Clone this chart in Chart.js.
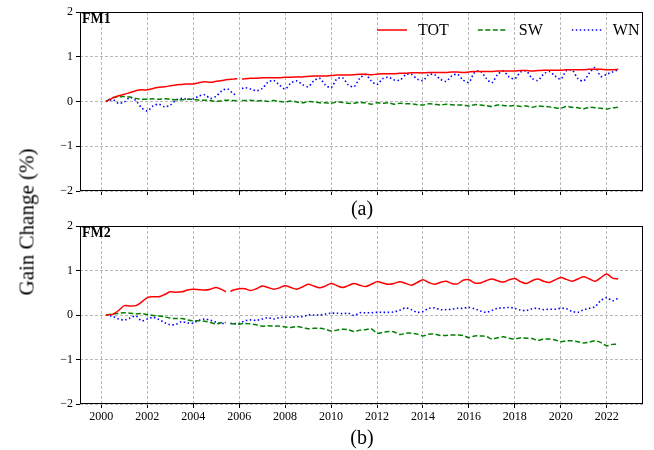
<!DOCTYPE html>
<html>
<head>
<meta charset="utf-8">
<style>
body { margin:0; background:#fff; width:654px; height:450px; position:relative; overflow:hidden;
       font-family:'Liberation Serif','Times New Roman',serif; }
canvas { position:absolute; left:0; }
.lbl { position:absolute; white-space:nowrap; color:#000; transform:translate(-50%,-50%); }
</style>
</head>
<body>
<script src="https://cdn.jsdelivr.net/npm/chart.js"></script>
<canvas id="fm1" width="654" height="212" style="top:0px"></canvas>
<canvas id="fm2" width="654" height="236" style="top:214px"></canvas>
<div class="lbl" style="left:27px;top:222px;font-size:21px;transform:translate(-50%,-50%) rotate(-90deg)">Gain Change (%)</div>
<div class="lbl" style="left:362px;top:208px;font-size:20px">(a)</div>
<div class="lbl" style="left:362px;top:437px;font-size:20px">(b)</div>

<script>
// sampling times (decimal year), one gap per panel
const times1 = [
  2000.2, 2000.5, 2000.75,
  2001, 2001.25, 2001.5, 2001.75,
  2002, 2002.25, 2002.5, 2002.75,
  2003, 2003.25, 2003.5, 2003.75,
  2004, 2004.25, 2004.5, 2004.75,
  2005, 2005.25, 2005.5, 2005.75, 2005.92,
  2006, 2006.12, 2006.25, 2006.5, 2006.75,
  2007, 2007.25, 2007.5, 2007.75,
  2008, 2008.25, 2008.5, 2008.75,
  2009, 2009.25, 2009.5, 2009.75,
  2010, 2010.25, 2010.5, 2010.75,
  2011, 2011.25, 2011.5, 2011.75,
  2012, 2012.25, 2012.5, 2012.75,
  2013, 2013.25, 2013.5, 2013.75,
  2014, 2014.25, 2014.5, 2014.75,
  2015, 2015.25, 2015.5, 2015.75,
  2016, 2016.25, 2016.5, 2016.75,
  2017, 2017.25, 2017.5, 2017.75,
  2018, 2018.25, 2018.5, 2018.75,
  2019, 2019.25, 2019.5, 2019.75,
  2020, 2020.25, 2020.5, 2020.75,
  2021, 2021.25, 2021.5, 2021.75,
  2022, 2022.25, 2022.5
];
const times2 = [
  2000.2, 2000.5, 2000.75,
  2001, 2001.25, 2001.5, 2001.75,
  2002, 2002.25, 2002.5, 2002.75,
  2003, 2003.25, 2003.5, 2003.75,
  2004, 2004.25, 2004.5, 2004.75,
  2005, 2005.25, 2005.42, 2005.5, 2005.62, 2005.75,
  2006, 2006.25, 2006.5, 2006.75,
  2007, 2007.25, 2007.5, 2007.75,
  2008, 2008.25, 2008.5, 2008.75,
  2009, 2009.25, 2009.5, 2009.75,
  2010, 2010.25, 2010.5, 2010.75,
  2011, 2011.25, 2011.5, 2011.75,
  2012, 2012.25, 2012.5, 2012.75,
  2013, 2013.25, 2013.5, 2013.75,
  2014, 2014.25, 2014.5, 2014.75,
  2015, 2015.25, 2015.5, 2015.75,
  2016, 2016.25, 2016.5, 2016.75,
  2017, 2017.25, 2017.5, 2017.75,
  2018, 2018.25, 2018.5, 2018.75,
  2019, 2019.25, 2019.5, 2019.75,
  2020, 2020.25, 2020.5, 2020.75,
  2021, 2021.25, 2021.5, 2021.75,
  2022, 2022.25, 2022.5
];

// FM1
const fm1Tot = [
  0.00, 0.08, 0.13,
  0.16, 0.20, 0.24, 0.26,
  0.26, 0.29, 0.32, 0.33,
  0.35, 0.37, 0.38, 0.39,
  0.39, 0.42, 0.44, 0.43,
  0.45, 0.47, 0.49, 0.50, 0.51,
  null, 0.50, 0.51, 0.52, 0.52,
  0.53, 0.53, 0.53, 0.53,
  0.54, 0.54, 0.55, 0.55,
  0.56, 0.57, 0.57, 0.57,
  0.58, 0.59, 0.59, 0.59,
  0.60, 0.61, 0.61, 0.60,
  0.61, 0.62, 0.62, 0.62,
  0.63, 0.63, 0.64, 0.64,
  0.64, 0.65, 0.65, 0.65,
  0.65, 0.66, 0.66, 0.65,
  0.66, 0.67, 0.67, 0.67,
  0.67, 0.68, 0.68, 0.68,
  0.68, 0.69, 0.69, 0.68,
  0.69, 0.70, 0.70, 0.70,
  0.70, 0.71, 0.71, 0.71,
  0.71, 0.72, 0.72, 0.72,
  0.71, 0.71, 0.72
];
const fm1Sw = [
  0.00, 0.09, 0.10,
  0.11, 0.10, 0.07, 0.05,
  0.05, 0.06, 0.05, 0.06,
  0.05, 0.04, 0.04, 0.05,
  0.05, 0.03, 0.03, 0.02,
  0.00, 0.02, 0.03, 0.02, 0.02,
  null, 0.02, 0.02, 0.03, 0.01,
  0.02, 0.00, 0.02, 0.00,
  -0.01, 0.01, -0.01, -0.03,
  0.00, -0.01, -0.03, -0.03,
  -0.04, -0.01, -0.02, -0.04,
  -0.04, -0.02, -0.03, -0.06,
  -0.03, -0.04, -0.03, -0.06,
  -0.04, -0.05, -0.05, -0.07,
  -0.08, -0.05, -0.06, -0.08,
  -0.06, -0.07, -0.08, -0.08,
  -0.10, -0.07, -0.08, -0.09,
  -0.11, -0.08, -0.09, -0.10,
  -0.09, -0.11, -0.10, -0.13,
  -0.10, -0.11, -0.12, -0.14,
  -0.15, -0.11, -0.13, -0.14,
  -0.16, -0.13, -0.14, -0.15,
  -0.17, -0.14, -0.13
];
const fm1Wn = [
  0.00, 0.04, -0.04,
  -0.01, 0.09, 0.02, -0.14,
  -0.21, -0.10, -0.06, -0.12,
  -0.08, 0.03, 0.07, 0.05,
  0.06, 0.12, 0.15, 0.07,
  0.12, 0.24, 0.28, 0.17, 0.14,
  null, 0.29, 0.31, 0.28, 0.24,
  0.29, 0.43, 0.47, 0.37,
  0.28, 0.41, 0.46, 0.38,
  0.33, 0.46, 0.52, 0.37,
  0.31, 0.50, 0.53, 0.37,
  0.33, 0.52, 0.60, 0.46,
  0.38, 0.51, 0.54, 0.48,
  0.48, 0.60, 0.61, 0.50,
  0.47, 0.60, 0.60, 0.50,
  0.45, 0.57, 0.61, 0.48,
  0.43, 0.65, 0.68, 0.52,
  0.42, 0.60, 0.68, 0.55,
  0.51, 0.66, 0.68, 0.52,
  0.47, 0.61, 0.67, 0.57,
  0.50, 0.69, 0.70, 0.51,
  0.46, 0.64, 0.76, 0.56,
  0.61, 0.66, 0.71
];

// FM2
const fm2Tot = [
  0.00, 0.02, 0.10,
  0.21, 0.20, 0.21, 0.29,
  0.39, 0.41, 0.41, 0.46,
  0.52, 0.51, 0.52, 0.56,
  0.58, 0.57, 0.56, 0.58,
  0.62, 0.57, 0.52, null, 0.53, 0.56,
  0.59, 0.59, 0.55, 0.59,
  0.65, 0.62, 0.58, 0.61,
  0.66, 0.62, 0.58, 0.63,
  0.69, 0.65, 0.61, 0.65,
  0.71, 0.66, 0.62, 0.66,
  0.71, 0.67, 0.64, 0.69,
  0.75, 0.72, 0.69, 0.71,
  0.75, 0.71, 0.67, 0.73,
  0.79, 0.73, 0.69, 0.73,
  0.76, 0.71, 0.70, 0.78,
  0.79, 0.72, 0.72, 0.77,
  0.81, 0.77, 0.74, 0.79,
  0.82, 0.75, 0.71, 0.77,
  0.81, 0.76, 0.73, 0.79,
  0.84, 0.80, 0.76, 0.81,
  0.86, 0.81, 0.76, 0.84,
  0.92, 0.83, 0.81
];
const fm2Sw = [
  0.00, 0.02, 0.04,
  0.05, 0.04, 0.03, 0.03,
  0.01, -0.01, -0.02, -0.04,
  -0.07, -0.08, -0.08, -0.11,
  -0.13, -0.13, -0.14, -0.17,
  -0.20, -0.17, -0.17, null, -0.19, -0.20,
  -0.20, -0.19, -0.20, -0.22,
  -0.25, -0.24, -0.25, -0.25,
  -0.27, -0.28, -0.26, -0.28,
  -0.31, -0.30, -0.30, -0.32,
  -0.36, -0.34, -0.32, -0.33,
  -0.37, -0.34, -0.33, -0.31,
  -0.41, -0.39, -0.37, -0.38,
  -0.44, -0.41, -0.41, -0.43,
  -0.47, -0.43, -0.43, -0.46,
  -0.46, -0.45, -0.45, -0.46,
  -0.51, -0.47, -0.47, -0.48,
  -0.54, -0.51, -0.49, -0.52,
  -0.54, -0.51, -0.52, -0.53,
  -0.57, -0.54, -0.54, -0.56,
  -0.60, -0.58, -0.58, -0.60,
  -0.63, -0.61, -0.58, -0.62,
  -0.69, -0.66, -0.66
];
const fm2Wn = [
  0.00, -0.03, -0.09,
  -0.11, -0.07, -0.02, -0.13,
  -0.09, -0.05, -0.10, -0.17,
  -0.22, -0.21, -0.15, -0.18,
  -0.18, -0.12, -0.09, -0.12,
  -0.16, -0.19, -0.19, null, -0.19, -0.19,
  -0.19, -0.13, -0.11, -0.12,
  -0.09, -0.06, -0.09, -0.06,
  -0.05, -0.05, -0.04, -0.04,
  0.00, 0.00, 0.00, 0.02,
  0.04, 0.04, 0.03, 0.04,
  -0.01, 0.05, 0.05, 0.05,
  0.06, 0.06, 0.06, 0.07,
  0.11, 0.16, 0.12, 0.06,
  0.08, 0.15, 0.16, 0.12,
  0.12, 0.13, 0.15, 0.15,
  0.17, 0.14, 0.09, 0.06,
  0.10, 0.15, 0.16, 0.17,
  0.15, 0.11, 0.10, 0.14,
  0.15, 0.12, 0.13, 0.13,
  0.15, 0.14, 0.08, 0.06,
  0.12, 0.15, 0.19, 0.33,
  0.39, 0.32, 0.38
];

const xTicks = [2000, 2002, 2004, 2006, 2008, 2010, 2012, 2014, 2016, 2018, 2020, 2022];
const yTicks = [-2, -1, 0, 1, 2];
const yTickLabels = ['\u22122', '\u22121', '0', '1', '2'];

const FONT = "'Liberation Serif', 'Times New Roman', serif";

// frame, panel tag and the in-axes legend
const framePlugin = {
  id: 'frame',
  afterDraw(chart, args, opts) {
    const ctx = chart.ctx, a = chart.chartArea;
    ctx.save();
    ctx.strokeStyle = '#000';
    ctx.lineWidth = 1;
    ctx.setLineDash([]);
    ctx.strokeRect(Math.round(a.left) + 0.5, Math.round(a.top) + 0.5,
                   Math.round(a.right - a.left) - 1, Math.round(a.bottom - a.top) - 1);
    ctx.fillStyle = '#000';
    ctx.textBaseline = 'alphabetic';
    ctx.font = 'bold 14px ' + FONT;
    ctx.fillText(opts.tag, a.left + 2, a.top + 11);
    if (opts.legend) {
      ctx.font = '16px ' + FONT;
      ctx.textBaseline = 'middle';
      let x = 377;
      const y = a.top + 18;
      chart.data.datasets.forEach(ds => {
        ctx.strokeStyle = ds.borderColor;
        ctx.lineWidth = ds.borderWidth;
        ctx.setLineDash(ds.borderDash || []);
        ctx.beginPath();
        ctx.moveTo(x, y);
        ctx.lineTo(x + 30, y);
        ctx.stroke();
        ctx.fillText(ds.label, x + 41, y + 1);
        x += 41 + ctx.measureText(ds.label).width + 29;
      });
    }
    ctx.restore();
  }
};

function series(times, vals) {
  return times.map((t, i) => ({ x: t, y: vals[i] }));
}

function makeChart(id, times, tot, sw, wn, tag, legend, xHeight, showX) {
  return new Chart(document.getElementById(id), {
    type: 'line',
    data: {
      datasets: [
        { label: 'TOT', data: series(times, tot), borderColor: '#ff0000', borderWidth: 1.5, tension: 0.3 },
        { label: 'SW', data: series(times, sw), borderColor: '#008000', borderWidth: 1.5, borderDash: [5, 2.5], tension: 0.3 },
        { label: 'WN', data: series(times, wn), borderColor: '#0000ff', borderWidth: 1.6, borderDash: [1.5, 2.5], tension: 0.3 }
      ]
    },
    options: {
      responsive: false,
      animation: false,
      devicePixelRatio: 1,
      pointRadius: 0,
      elements: { point: { radius: 0 } },
      layout: { padding: { left: 0, right: 11, top: 12, bottom: 0 } },
      plugins: {
        legend: { display: false },
        tooltip: { enabled: false },
        frame: { tag: tag, legend: legend }
      },
      scales: {
        x: {
          type: 'linear',
          min: 1999.07,
          max: 2023.58,
          afterBuildTicks: s => { s.ticks = xTicks.map(v => ({ value: v })); },
          afterFit: s => { s.height = xHeight; },
          ticks: {
            font: { family: FONT, size: 12 },
            color: '#000',
            padding: 2,
            maxRotation: 0,
            autoSkip: false,
            callback: v => showX ? String(v) : ''
          },
          grid: { color: '#b8b8b8', lineWidth: 1, tickLength: 4, tickColor: '#000', tickWidth: 1, tickBorderDash: [] },
          border: { display: false, dash: [3, 2] }
        },
        y: {
          min: -2,
          max: 2,
          afterBuildTicks: s => { s.ticks = yTicks.map(v => ({ value: v })); },
          afterFit: s => { s.width = 80; },
          ticks: {
            font: { family: FONT, size: 12 },
            color: '#000',
            padding: 3,
            callback: (v, i) => yTickLabels[i]
          },
          grid: { color: '#b8b8b8', lineWidth: 1, tickLength: 4, tickColor: '#000', tickWidth: 1, tickBorderDash: [] },
          border: { display: false, dash: [3, 2] }
        }
      }
    },
    plugins: [framePlugin]
  });
}

makeChart('fm1', times1, fm1Tot, fm1Sw, fm1Wn, 'FM1', true, 21, false);
makeChart('fm2', times2, fm2Tot, fm2Sw, fm2Wn, 'FM2', false, 46, true);
</script>
</body>
</html>
